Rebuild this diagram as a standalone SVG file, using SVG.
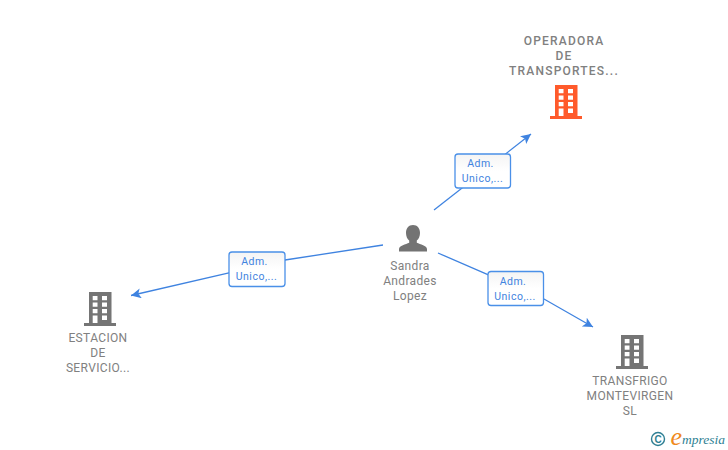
<svg xmlns="http://www.w3.org/2000/svg" width="728" height="450" viewBox="0 0 728 450">
<style>
.lbl{font-family:Roboto,"Liberation Sans",sans-serif;font-size:12px;fill:#808080;text-anchor:middle;letter-spacing:.35px}
.top{font-weight:500;fill:#808080;letter-spacing:1.2px}
.edge{fill:none;stroke:#3f83e0;stroke-width:1.3}
.box{fill:#fff;stroke:#4a90e8;stroke-width:1.3}
.et{font-family:Roboto,"Liberation Sans",sans-serif;font-size:10.5px;fill:#3f83e0;text-anchor:middle;letter-spacing:.5px}
</style>
<defs>
<linearGradient id="g" x1="0" y1="0" x2="0" y2="1"><stop offset="0" stop-color="#f4f4f4"/><stop offset=".5" stop-color="#fff"/></linearGradient>
<marker id="arr" markerWidth="12" markerHeight="12" refX="10" refY="5" orient="auto" markerUnits="userSpaceOnUse"><path d="M0 0L10 5L0 10L2.500 5Z" fill="#3f83e0"/></marker>
<path id="b" fill-rule="evenodd" d="M0 0H22.500V31H27V34H-5V31H0ZM3.700 4V8.200H8.500V4ZM13 4V8.200H18V4ZM3.700 10.500V14.700H8.500V10.500ZM13 10.500V14.700H18V10.500ZM3.700 17V21.200H8.500V17ZM13 17V21.200H18V17ZM3.700 23.500V31H8.500V23.500ZM13 23.500V28H18V23.500Z"/>
</defs>
<g id="connectors">
<path class="edge" d="M434 210L531 134" marker-end="url(#arr)"/>
<path class="edge" d="M383 245L285 260L131 295.500" marker-end="url(#arr)"/>
<path class="edge" d="M438 253L544 299L593 327" marker-end="url(#arr)"/>
</g>
<g id="edge-label-1"><rect class="box" style="fill:url(#g)" x="455" y="154" width="55.500" height="34" rx="3"/><text class="et" x="480.500" y="167">Adm.</text><text class="et" x="482.500" y="182">Unico,...</text></g>
<g id="edge-label-2"><rect class="box" style="fill:url(#g)" x="229" y="252" width="56" height="34.500" rx="3"/><text class="et" x="254.500" y="265">Adm.</text><text class="et" x="256.500" y="280">Unico,...</text></g>
<g id="edge-label-3"><rect class="box" style="fill:url(#g)" x="488" y="271.500" width="55.500" height="34" rx="3"/><text class="et" x="513" y="285">Adm.</text><text class="et" x="515" y="300">Unico,...</text></g>
<g id="node-operadora"><use href="#b" x="555" y="85" fill="#ff5a2b"/><text class="lbl top" x="564" y="45">OPERADORA</text><text class="lbl top" x="564" y="60">DE</text><text class="lbl top" x="564" y="75">TRANSPORTES...</text></g>
<g id="node-sandra"><path fill="#737373" d="M413 225c-4.500 0-7 3.500-7 8 0 3.200 1.300 6 3.200 7.500v2.300c-3.500 1.600-10 2.800-10.200 6.200v2.500h28v-2.500c-.2-3.400-6.700-4.600-10.200-6.200v-2.300c1.900-1.500 3.200-4.300 3.200-7.500 0-4.500-2.500-8-7-8z"/><text class="lbl" x="410" y="270">Sandra</text><text class="lbl" x="410" y="285">Andrades</text><text class="lbl" x="410" y="300">Lopez</text></g>
<g id="node-estacion"><use href="#b" x="89" y="292" fill="#757575"/><text class="lbl" x="98" y="342">ESTACION</text><text class="lbl" x="98" y="357">DE</text><text class="lbl" x="98" y="372">SERVICIO...</text></g>
<g id="node-transfrigo"><use href="#b" x="621" y="335" fill="#757575"/><text class="lbl" x="630" y="385">TRANSFRIGO</text><text class="lbl" x="630" y="400">MONTEVIRGEN</text><text class="lbl" x="630" y="415">SL</text></g>
<g id="logo"><circle cx="658" cy="439" r="6.500" fill="none" stroke="#2f7f93" stroke-width="1.400"/><text x="658" y="442.500" font-family="Liberation Sans,sans-serif" font-size="10" font-weight="700" fill="#2f7f93" text-anchor="middle">C</text><text x="670.500" y="445" font-family="Liberation Serif,serif" font-style="italic" font-size="26" fill="#f08a1d">e</text><text x="682" y="444" font-family="Liberation Serif,serif" font-style="italic" font-size="13.500" fill="#2f7f93">mpresia</text></g>
</svg>
